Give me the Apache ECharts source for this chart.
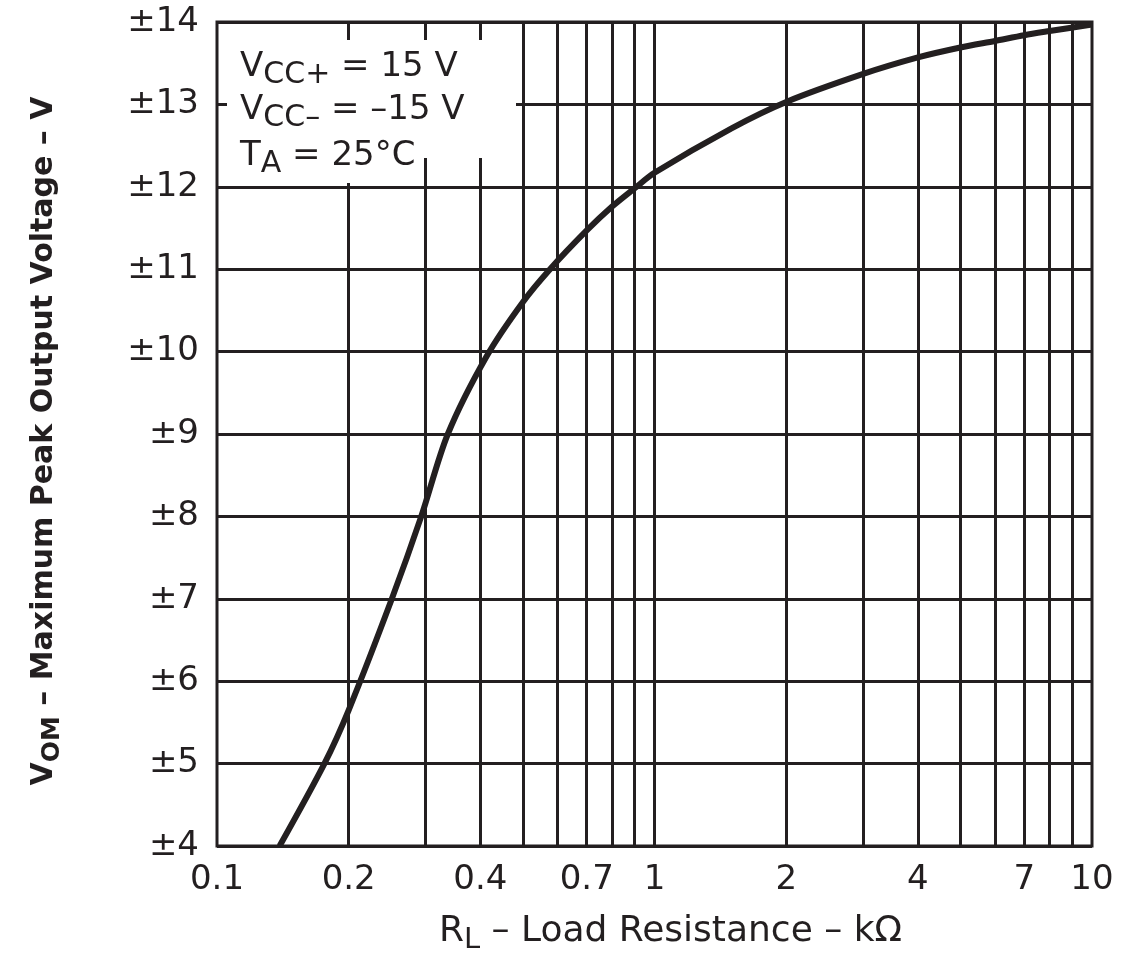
<!DOCTYPE html>
<html>
<head>
<meta charset="utf-8">
<script src="https://cdn.jsdelivr.net/npm/echarts@6/dist/echarts.min.js"></script>
<style>
  html, body { margin: 0; padding: 0; background: #fff; }
  #main { width: 1143px; height: 963px; }
</style>
</head>
<body>
<div id="main"></div>
<script>
// load resistance (kOhm) vs max peak output voltage (V)
var loadRes = [0.139, 0.176, 0.2, 0.251, 0.293, 0.337, 0.414, 0.5, 0.577, 0.7, 0.8, 0.9,
               1, 1.5, 2, 3, 4, 5, 6, 7, 8, 10];
var vom     = [4, 5, 5.65, 7, 8, 9, 9.95, 10.6, 11, 11.47, 11.76, 11.98,
               12.17, 12.71, 13.03, 13.37, 13.57, 13.69, 13.77, 13.84, 13.89, 13.97];

// vertical grid lines and the in-between x tick labels
var xGridValues  = [0.2, 0.3, 0.4, 0.5, 0.6, 0.7, 0.8, 0.9, 1, 2, 3, 4, 5, 6, 7, 8, 9];
var xLabelValues = [0.2, 0.4, 0.7, 2, 4, 7];

// y axis range / ticks
var yMin = 4, yMax = 14, yStep = 1;

var INK = '#231f20';
var FONT = '"DejaVu Sans", "Liberation Sans", sans-serif';

var chart = echarts.init(document.getElementById('main'), null, {renderer: 'canvas'});

var points = [];
for (var i = 0; i < loadRes.length; i++) points.push([loadRes[i], vom[i]]);

var gridLines = xGridValues.map(function (v) {
    return {
        xAxis: v,
        label: {show: xLabelValues.indexOf(v) >= 0, formatter: String(v)}
    };
});

function subRich(main, sub, pad, weight) {
    return {
        m: {fontSize: main, fontWeight: weight, fontFamily: FONT, color: INK},
        s: {fontSize: sub, fontWeight: weight, fontFamily: FONT, color: INK, padding: [pad, 0, 0, 0]}
    };
}

var noteRich = {
    m: {fontSize: 34, fontFamily: FONT, fill: INK},
    s: {fontSize: 30, fontFamily: FONT, fill: INK, padding: [16, 0, 0, 0]}
};

var option = {
    backgroundColor: '#fff',
    animation: false,
    grid: {
        left: 217, right: 51, top: 22, bottom: 117,
        show: true, borderColor: INK, borderWidth: 3, backgroundColor: 'transparent'
    },
    xAxis: {
        type: 'log', logBase: 10, min: 0.1, max: 10,
        axisLine: {show: false},
        axisTick: {show: false},
        splitLine: {show: false},
        minorTick: {show: false},
        axisLabel: {
            color: INK, fontSize: 34, fontFamily: FONT, margin: 17,
            formatter: function (v) { return String(v); }
        },
        name: '{m|R}{s|L}{m| \u2013 Load Resistance \u2013 k\u03a9}',
        nameLocation: 'middle',
        nameGap: 62,
        nameTextStyle: {
            color: INK, fontFamily: FONT, padding: [0, 0, 0, 32],
            rich: subRich(36, 29, 18, 'normal')
        }
    },
    yAxis: {
        type: 'value', min: yMin, max: yMax, interval: yStep,
        axisLine: {show: false},
        axisTick: {show: false},
        splitLine: {show: true, lineStyle: {color: INK, width: 3}},
        axisLabel: {
            color: INK, fontSize: 34, fontFamily: FONT, margin: 18,
            formatter: function (v) { return '\u00b1' + v; }
        },
        name: '{m|V}{s|OM}{m| \u2013 Maximum Peak Output Voltage \u2013 V}',
        nameLocation: 'middle',
        nameRotate: 90,
        nameGap: 152,
        nameTextStyle: {
            color: INK, fontFamily: FONT, padding: [0, 14, 0, 0],
            rich: subRich(30, 25, 16, 'bold')
        }
    },
    graphic: [
        {type: 'rect', z: 10, silent: true, shape: {x: 227, y: 40, width: 289, height: 118}, style: {fill: '#fff'}},
        {type: 'rect', z: 10, silent: true, shape: {x: 227, y: 158, width: 193, height: 25}, style: {fill: '#fff'}},
        {type: 'text', z: 11, silent: true, x: 240, y: 67, style: {
            text: '{m|V}{s|CC+}{m| = 15 V}', verticalAlign: 'middle', rich: noteRich
        }},
        {type: 'text', z: 11, silent: true, x: 240, y: 110, style: {
            text: '{m|V}{s|CC\u2013}{m| = \u201315 V}', verticalAlign: 'middle', rich: noteRich
        }},
        {type: 'text', z: 11, silent: true, x: 240, y: 156, style: {
            text: '{m|T}{s|A}{m| = 25\u00b0C}', verticalAlign: 'middle', rich: noteRich
        }}
    ],
    series: [
        {
            // carries the vertical grid lines + in-between tick labels
            type: 'line', data: [], z: 1, silent: true,
            markLine: {
                z: 1, silent: true, symbol: ['none', 'none'], animation: false,
                lineStyle: {color: INK, width: 3, type: 'solid'},
                label: {
                    show: false, position: 'start', distance: 17,
                    color: INK, fontSize: 34, fontFamily: FONT
                },
                emphasis: {disabled: true},
                data: gridLines
            }
        },
        {
            name: 'VOM', type: 'line', z: 5,
            data: points,
            smooth: 0.3,
            showSymbol: false,
            lineStyle: {color: INK, width: 6},
            clip: true
        }
    ]
};

chart.setOption(option);
</script>
</body>
</html>
